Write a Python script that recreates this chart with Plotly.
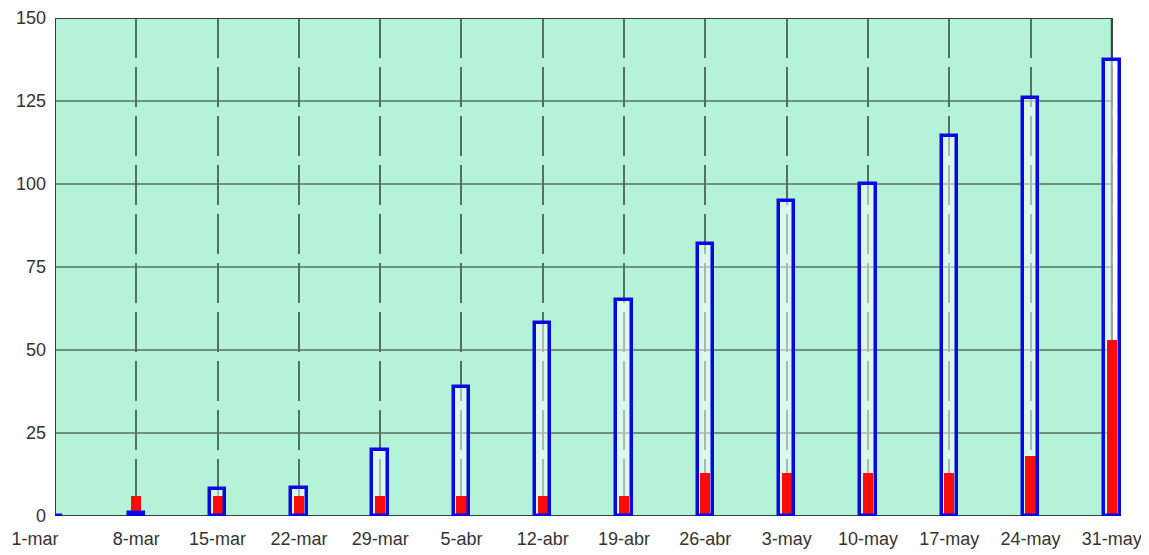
import plotly.graph_objects as go

categories = ["1-mar", "8-mar", "15-mar", "22-mar", "29-mar", "5-abr", "12-abr",
              "19-abr", "26-abr", "3-may", "10-may", "17-may", "24-may", "31-may"]
blue_values = [0, 1, 8, 8.5, 20, 39, 58, 65, 82, 95, 100, 114.5, 126, 137.5]
red_values = [0, 6, 6, 6, 6, 6, 6, 6, 13, 13, 13, 13, 18, 53]
y_ticks = [0, 25, 50, 75, 100, 125, 150]

BG = "#b4f3d7"
GRID = "#56705f"
BORDER = "#33423a"
BLUE = "#0808e6"
RED = "#ff0a0a"

n = len(categories)
last = n - 1

# first label sits a bit left of its tick in the reference
tick_text = [categories[0] + "\u00a0" * 8] + categories[1:]

fig = go.Figure()
# light translucent fill of the hollow bars
fig.add_trace(go.Bar(x=categories, y=blue_values, width=0.19,
                     marker=dict(color="rgba(255,255,255,0.5)", line=dict(width=0)),
                     showlegend=False, hoverinfo="skip"))
fig.add_trace(go.Bar(x=categories, y=red_values, width=0.125,
                     marker=dict(color=RED, line=dict(width=0)),
                     showlegend=False))
fig.add_trace(go.Bar(x=categories, y=blue_values, width=0.19,
                     marker=dict(color="rgba(0,0,0,0)", line=dict(color=BLUE, width=3.5)),
                     showlegend=False))

shapes = [dict(type="rect", xref="x", yref="y", x0=0, x1=last, y0=0, y1=150,
               fillcolor=BG, line=dict(width=0), layer="below")]
for t in y_ticks[1:-1]:
    shapes.append(dict(type="line", xref="x", yref="y", x0=0, x1=last, y0=t, y1=t,
                       line=dict(color=GRID, width=1.5), layer="between"))
shapes.append(dict(type="rect", xref="x", yref="y", x0=0, x1=last, y0=0, y1=150,
                   line=dict(color=BORDER, width=2), fillcolor="rgba(0,0,0,0)",
                   layer="between"))

# the page body adds an 8px offset, so the figure is 8px smaller
fig.update_layout(
    width=1141, height=547,
    margin=dict(l=47, r=25, t=10, b=39, autoexpand=False),
    paper_bgcolor="white", plot_bgcolor="white",
    barmode="overlay", bargap=0,
    shapes=shapes,
    font=dict(family="Liberation Sans, Arial, sans-serif", size=18, color="#333333"),
    xaxis=dict(type="category", categoryorder="array", categoryarray=categories,
               tickmode="array", tickvals=categories, ticktext=tick_text,
               range=[0, last + 0.15], showgrid=True, gridcolor=GRID, gridwidth=1.5,
               griddash="40px,9px", showline=False, zeroline=False, ticks="",
               ticklabelstandoff=10, automargin=False, fixedrange=True),
    yaxis=dict(range=[0, 150], tickvals=y_ticks, showgrid=False, zeroline=False,
               showline=False, ticks="", ticklabelstandoff=8, automargin=False,
               fixedrange=True),
)

fig.write_html("out.html")
